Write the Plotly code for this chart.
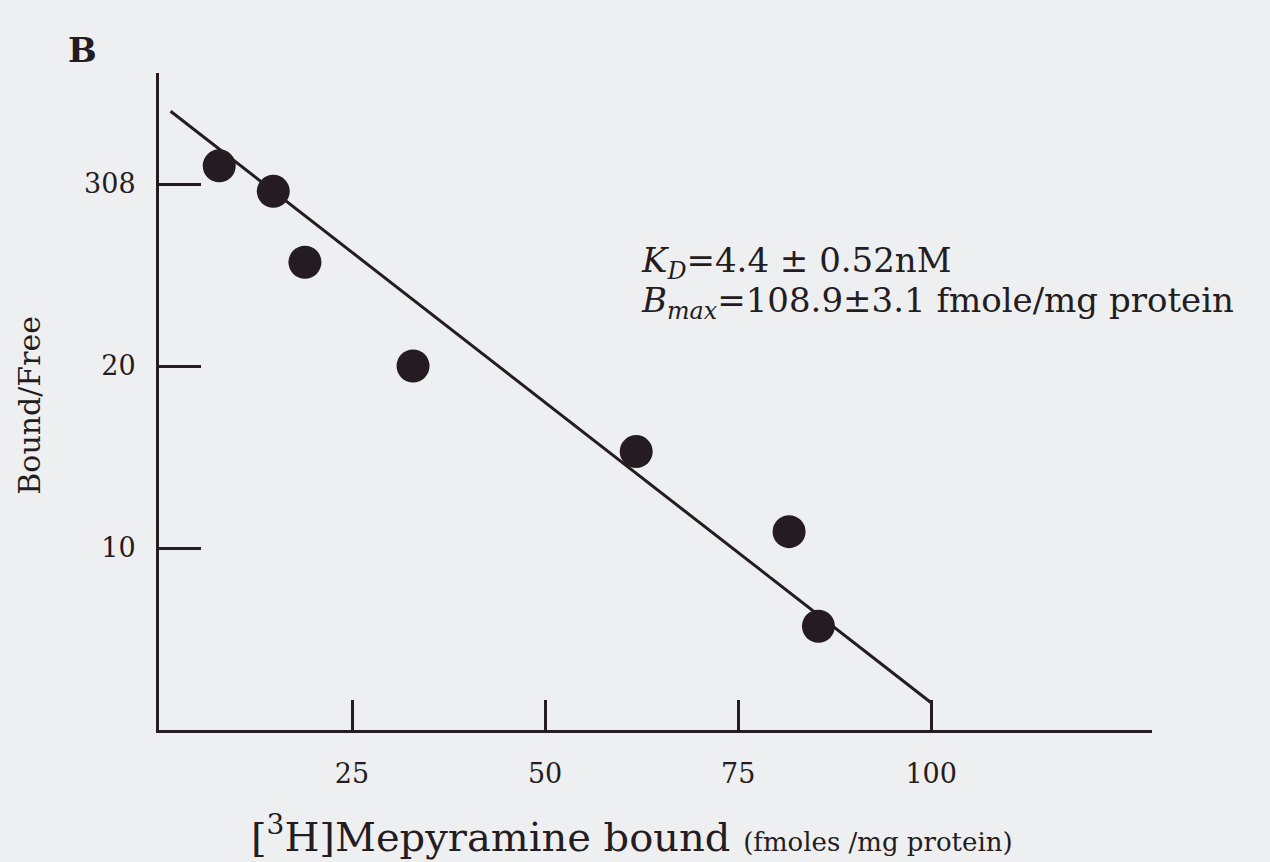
import plotly.graph_objects as go

# Scatchard data
bound = [7.8, 14.8, 18.9, 32.9, 61.8, 81.6, 85.4]
bound_free = [31.0, 29.6, 25.7, 20.0, 15.3, 10.9, 5.7]

# Fitted regression line endpoints
fit_x = [1.5, 100.0]
fit_y = [34.0, 1.5]

x_tickvals = [25, 50, 75, 100]
x_ticktext = ["25", "50", "75", "100"]
y_tickvals = [10, 20, 30]
y_ticktext = ["10", "20", "308"]

ink = "#241c20"
bg = "#eeeff1"
font_family = "DejaVu Serif"

fig = go.Figure()
fig.add_trace(go.Scatter(x=fit_x, y=fit_y, mode="lines",
                         line=dict(color=ink, width=3), showlegend=False))
fig.add_trace(go.Scatter(x=bound, y=bound_free, mode="markers",
                         marker=dict(color=ink, size=33, line=dict(width=0)),
                         showlegend=False))

fig.update_layout(
    width=1270, height=862,
    margin=dict(l=159, r=118, t=73, b=132),
    paper_bgcolor=bg, plot_bgcolor=bg,
    font=dict(family=font_family, color=ink),
    xaxis=dict(range=[0, 128.6], showgrid=False, zeroline=False,
               showline=True, linecolor=ink, linewidth=3,
               ticks="inside", ticklen=30, tickwidth=3, tickcolor=ink,
               tickvals=x_tickvals, ticktext=x_ticktext,
               tickfont=dict(size=27, family=font_family, color=ink),
               ticklabelstandoff=18),
    yaxis=dict(range=[0, 36.1], showgrid=False, zeroline=False,
               showline=True, linecolor=ink, linewidth=3,
               ticks="inside", ticklen=42, tickwidth=3, tickcolor=ink,
               tickvals=y_tickvals, ticktext=y_ticktext,
               tickfont=dict(size=27, family=font_family, color=ink),
               ticklabelstandoff=15),
    annotations=[
        dict(text="<b>B</b>", xref="paper", yref="paper", x=-0.094, y=1.068,
             showarrow=False, font=dict(size=34, family=font_family, color=ink)),
        dict(text="<i>K<sub>D</sub></i>=4.4 ± 0.52nM",
             x=62.2, y=(730 - 262) / 18.2, xanchor="left", yanchor="middle", align="left",
             showarrow=False, font=dict(size=34, family=font_family, color=ink)),
        dict(text="<i>B<sub>max</sub></i>=108.9±3.1 fmole/mg protein",
             x=62.2, y=(730 - 302) / 18.2, xanchor="left", yanchor="middle", align="left",
             showarrow=False, font=dict(size=34, family=font_family, color=ink)),
        dict(text="[<sup>3</sup>H]Mepyramine bound <span style='font-size:26px'>(fmoles /mg protein)</span>",
             xref="paper", yref="paper", x=0.476, y=-0.158, xanchor="center", yanchor="middle",
             showarrow=False, font=dict(size=40, family=font_family, color=ink)),
        dict(text="Bound/Free", xref="paper", yref="paper", x=-0.13, y=0.495,
             xanchor="center", yanchor="middle", textangle=-90,
             showarrow=False, font=dict(size=30, family=font_family, color=ink)),
    ],
)

fig.write_html("out.html")
